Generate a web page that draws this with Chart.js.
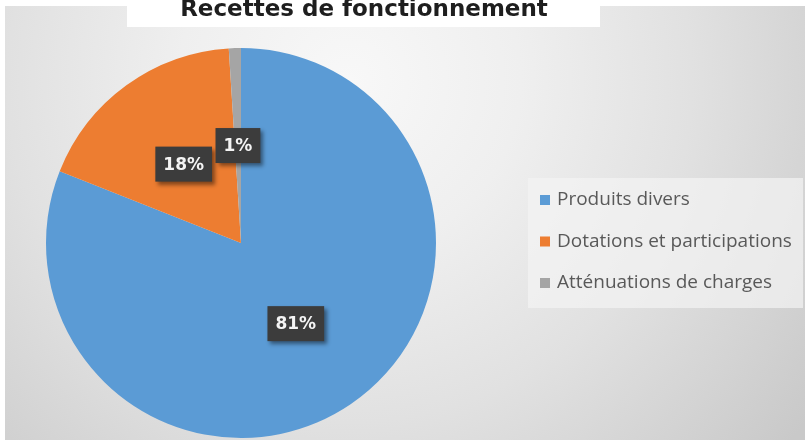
<!DOCTYPE html>
<html>
<head>
<meta charset="utf-8">
<script src="https://cdn.jsdelivr.net/npm/chart.js@4.4.1/dist/chart.umd.min.js"></script>
<style>
  html, body { margin: 0; padding: 0; background: #fff; }
  #myChart { display: block; }
</style>
</head>
<body>
<canvas id="myChart" width="805" height="443"></canvas>
<script>
const chartTitle = 'Recettes de fonctionnement';
const categories = ['Produits divers', 'Dotations et participations', 'Atténuations de charges'];
const shares = [81, 18, 1];
const sliceColors = ['#5b9bd5', '#ed7d31', '#a5a5a5'];

const ctx = document.getElementById('myChart').getContext('2d');

// grey gradient backdrop + white title strip (title is cut at the top in the original)
const backdrop = {
  id: 'backdrop',
  beforeDraw(chart) {
    const c = chart.ctx;
    c.save();
    c.fillStyle = '#ffffff';
    c.fillRect(0, 0, chart.width, chart.height);
    const g = c.createRadialGradient(350, 80, 0, 350, 80, 570);
    g.addColorStop(0, '#f8f8f8');
    g.addColorStop(0.3, '#efefef');
    g.addColorStop(0.6, '#e1e1e1');
    g.addColorStop(1, '#c9c9c9');
    c.fillStyle = g;
    c.fillRect(5, 6, 800, 434);
    c.fillStyle = '#ffffff';
    c.fillRect(127, 0, 473, 27);
    c.fillStyle = '#1e1e1e';
    c.font = 'bold 23px "DejaVu Sans"';
    c.textAlign = 'center';
    c.textBaseline = 'alphabetic';
    c.fillText(chartTitle, 364, 16);
    c.restore();
  }
};

// dark boxed percentage labels
const boxLabels = {
  id: 'boxLabels',
  afterDatasetsDraw(chart) {
    const c = chart.ctx;
    const meta = chart.getDatasetMeta(0);
    const total = shares.reduce((a, b) => a + b, 0);
    c.save();
    c.font = 'bold 17px "DejaVu Sans"';
    c.textAlign = 'center';
    c.textBaseline = 'middle';
    meta.data.forEach((arc, i) => {
      const p = arc.getCenterPoint();
      const txt = Math.round(shares[i] / total * 100) + '%';
      const w = c.measureText(txt).width + 16;
      const h = 35;
      c.shadowColor = 'rgba(0,0,0,0.45)';
      c.shadowBlur = 4;
      c.shadowOffsetX = 3;
      c.shadowOffsetY = 3;
      c.fillStyle = '#3c3c3c';
      c.fillRect(p.x - w / 2, p.y - h / 2, w, h);
      c.shadowColor = 'transparent';
      c.fillStyle = '#f4f4f4';
      c.fillText(txt, p.x, p.y + 1);
    });
    c.restore();
  }
};

// legend panel on the right
const sideLegend = {
  id: 'sideLegend',
  afterDraw(chart) {
    const c = chart.ctx;
    c.save();
    c.fillStyle = 'rgba(244,244,244,0.7)';
    c.fillRect(528, 178, 275, 130);
    c.font = '19px "Open Sans"';
    c.textBaseline = 'middle';
    categories.forEach((label, i) => {
      const y = 200 + i * 41.5;
      c.fillStyle = sliceColors[i];
      c.fillRect(540, y - 5, 10, 10);
      c.fillStyle = '#595959';
      c.fillText(label, 557, y);
    });
    c.restore();
  }
};

new Chart(ctx, {
  type: 'pie',
  data: {
    labels: categories,
    datasets: [{
      data: shares,
      backgroundColor: sliceColors,
      borderWidth: 0
    }]
  },
  options: {
    responsive: false,
    animation: false,
    layout: {
      padding: { left: 46, top: 48, right: 369, bottom: 5 }
    },
    plugins: {
      legend: { display: false },
      tooltip: { enabled: false }
    }
  },
  plugins: [backdrop, boxLabels, sideLegend]
});
</script>
</body>
</html>
